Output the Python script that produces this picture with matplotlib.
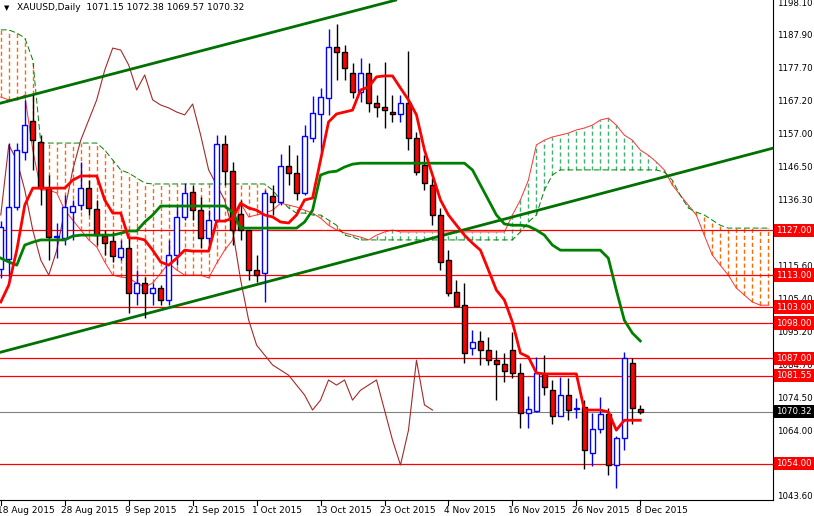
import matplotlib.pyplot as plt
import numpy as np

# daily OHLC, 18 Aug 2015 .. 8 Dec 2015
opens = [1115.0, 1118.0, 1134.3, 1151.5, 1161.2, 1154.6, 1140.2, 1124.9, 1124.6, 1132.7,
         1134.9, 1140.2, 1133.7, 1125.2, 1123.6, 1118.7, 1121.5, 1107.4, 1110.5, 1107.4,
         1109.0, 1105.2, 1119.3, 1131.2, 1139.0, 1133.4, 1124.6, 1130.2, 1154.0, 1145.6,
         1132.1, 1127.1, 1114.6, 1113.6, 1137.7, 1135.8, 1147.1, 1144.9, 1138.7, 1155.9,
         1163.4, 1168.4, 1184.3, 1182.8, 1176.2, 1170.3, 1176.2, 1166.8, 1165.6, 1164.0,
         1163.4, 1166.8, 1155.9, 1147.4, 1141.2, 1131.8, 1117.7, 1107.7, 1103.6, 1090.2,
         1092.4, 1089.6, 1086.4, 1085.2, 1089.6, 1082.4, 1069.8, 1070.5, 1082.1, 1077.0,
         1068.9, 1075.5, 1071.1, 1071.7, 1057.3, 1065.0, 1069.5, 1053.6, 1062.0, 1085.5,
         1071.15]
closes = [1128.0, 1134.3, 1152.1, 1159.9, 1155.2, 1140.2, 1124.9, 1124.9, 1134.3, 1134.6,
          1140.2, 1134.0, 1125.5, 1123.0, 1119.0, 1121.5, 1107.4, 1110.5, 1107.4, 1109.0,
          1105.2, 1119.3, 1131.2, 1138.7, 1133.4, 1124.6, 1130.2, 1154.0, 1145.6, 1127.1,
          1127.1, 1114.6, 1113.0, 1138.7, 1135.8, 1147.1, 1144.9, 1138.7, 1156.5, 1163.7,
          1168.7, 1184.3, 1182.8, 1177.8, 1170.3, 1176.2, 1166.8, 1165.6, 1164.6, 1163.4,
          1166.8, 1155.9, 1145.3, 1141.8, 1131.8, 1117.1, 1107.4, 1103.3, 1088.6, 1092.2,
          1089.6, 1086.4, 1085.2, 1083.0, 1082.4, 1069.8, 1071.0, 1082.4, 1078.0, 1068.9,
          1075.5, 1070.8, 1071.1, 1058.3, 1065.0, 1069.5, 1053.6, 1062.0, 1087.0, 1071.4,
          1070.32]
highs = [1130.0, 1154.3, 1154.3, 1167.8, 1169.3, 1156.8, 1144.4, 1129.3, 1138.0, 1136.5,
         1148.4, 1142.7, 1136.5, 1127.1, 1126.5, 1124.0, 1124.6, 1114.6, 1112.4, 1110.5,
         1109.9, 1124.0, 1134.9, 1141.8, 1141.2, 1137.4, 1133.3, 1156.8, 1156.8, 1148.4,
         1136.5, 1127.1, 1119.3, 1139.6, 1141.2, 1151.0, 1153.7, 1150.5, 1159.9, 1169.0,
         1171.5, 1190.0, 1191.5, 1184.9, 1179.3, 1180.9, 1179.3, 1169.3, 1179.6, 1169.3,
         1169.3, 1183.1, 1157.8, 1150.5, 1143.4, 1134.0, 1120.8, 1111.5, 1110.5, 1095.8,
         1095.5, 1093.6, 1089.6, 1088.6, 1095.2, 1085.5, 1075.2, 1087.4, 1088.0, 1080.2,
         1081.1, 1080.8, 1074.5, 1073.9, 1069.8, 1074.9, 1071.4, 1062.6, 1088.9, 1087.0,
         1072.38]
lows = [1112.0, 1111.5, 1133.3, 1149.0, 1145.9, 1134.9, 1117.7, 1118.3, 1122.4, 1123.9,
        1133.3, 1131.8, 1122.4, 1119.3, 1117.1, 1117.7, 1101.1, 1103.6, 1099.6, 1103.6,
        1103.6, 1103.6, 1116.1, 1130.2, 1130.2, 1121.5, 1122.4, 1129.6, 1141.2, 1122.4,
        1124.0, 1111.5, 1110.8, 1104.6, 1131.8, 1134.9, 1141.2, 1136.5, 1138.0, 1154.6,
        1151.5, 1163.1, 1174.0, 1174.0, 1168.4, 1167.1, 1164.0, 1162.4, 1159.0, 1160.9,
        1160.9, 1152.1, 1144.3, 1139.6, 1128.6, 1114.6, 1106.4, 1103.3, 1085.5, 1088.0,
        1084.9, 1084.9, 1073.9, 1079.6, 1080.8, 1065.2, 1065.2, 1070.2, 1075.5, 1066.4,
        1068.9, 1067.6, 1068.3, 1052.3, 1053.3, 1063.6, 1050.5, 1046.4, 1058.3, 1066.4,
        1069.57]

tenkan = [1104.6, 1109.9, 1120.8, 1134.9, 1140.2, 1140.2, 1140.2, 1140.2, 1140.2, 1142.7,
          1144.0, 1144.0, 1144.0, 1136.5, 1132.4, 1132.4, 1124.6, 1124.6, 1124.0, 1120.8,
          1117.1, 1116.1, 1118.3, 1120.8, 1120.5, 1120.5, 1120.5, 1129.9, 1129.9, 1130.8,
          1135.5, 1134.0, 1133.3, 1131.8, 1131.2, 1129.6, 1129.3, 1131.8, 1136.5, 1137.1,
          1149.0, 1160.9, 1163.4, 1164.0, 1164.6, 1170.9, 1171.8, 1175.0, 1175.3, 1175.3,
          1171.5, 1167.8, 1163.1, 1152.1, 1144.3, 1136.5, 1131.8, 1128.6, 1125.5, 1123.0,
          1120.8, 1114.6, 1108.3, 1105.2, 1098.3, 1088.6, 1087.4, 1082.4, 1082.1, 1082.1,
          1082.1, 1082.1, 1082.1, 1070.8, 1070.8, 1070.8, 1070.2, 1064.5, 1067.6, 1067.6,
          1067.6]
kijun = [1118.3, 1117.1, 1116.1, 1122.4, 1123.3, 1124.0, 1124.0, 1124.0, 1124.0, 1125.2,
         1125.5, 1125.5, 1125.5, 1125.5, 1125.5, 1126.1, 1126.8, 1126.8, 1129.6, 1131.8,
         1134.6, 1134.6, 1134.6, 1134.6, 1134.6, 1134.6, 1134.6, 1134.6, 1134.6, 1132.7,
         1127.7, 1127.7, 1127.7, 1127.7, 1127.7, 1127.7, 1127.7, 1127.7, 1129.6, 1133.3,
         1144.3, 1145.2, 1145.5, 1146.8, 1147.7, 1148.0, 1148.0, 1148.0, 1148.0, 1148.0,
         1148.0, 1148.0, 1148.0, 1148.0, 1148.0, 1148.0, 1148.0, 1148.0, 1148.0, 1145.9,
         1141.2, 1136.5, 1131.8, 1129.0, 1128.6, 1128.6, 1128.3, 1127.1, 1125.5, 1122.4,
         1120.8, 1120.8, 1120.8, 1120.8, 1120.8, 1120.8, 1118.3, 1108.3, 1098.9, 1094.9,
         1092.4]
chikou = [1131.8, 1153.7, 1149.0, 1139.6, 1127.1, 1117.7, 1113.0, 1120.8, 1133.3, 1145.9,
          1155.2, 1161.5, 1167.8, 1177.1, 1184.0, 1183.4, 1178.7, 1170.9, 1175.6, 1167.8,
          1166.2, 1165.3, 1164.0, 1163.1, 1166.5, 1156.8, 1145.9, 1141.2, 1136.5, 1127.1,
          1111.5, 1099.0, 1091.1, 1088.0, 1084.9, 1083.3, 1081.7, 1078.6, 1075.5, 1070.8,
          1073.9, 1080.2, 1078.6, 1080.2, 1073.9, 1077.0, 1078.6, 1080.2, 1070.8, 1061.4,
          1053.6, 1064.5, 1086.4, 1072.4, 1070.8]
span_a = [1168.7, 1167.8, 1167.8, 1169.3, 1152.1, 1139.6, 1139.6, 1138.7, 1133.3, 1130.2,
          1127.1, 1124.0, 1121.8, 1117.1, 1113.0, 1112.4, 1112.1, 1110.5, 1109.3, 1110.5,
          1113.6, 1116.7, 1114.6, 1113.0, 1113.0, 1113.0, 1112.1, 1116.7, 1120.8, 1124.0,
          1135.5, 1131.2, 1131.8, 1132.4, 1133.3, 1135.5, 1134.9, 1134.3, 1133.3, 1132.4,
          1130.8, 1128.6, 1127.1, 1126.2, 1125.5, 1124.9, 1124.0, 1125.5, 1126.5, 1127.1,
          1126.5, 1126.5, 1126.5, 1126.5, 1126.5, 1126.5, 1126.5, 1126.5, 1126.5, 1126.5,
          1126.5, 1126.5, 1126.5, 1126.5, 1131.8, 1136.5, 1142.7, 1153.7, 1155.2, 1156.2,
          1156.8, 1157.4, 1158.4, 1159.0, 1159.9, 1161.5, 1162.1, 1159.9, 1156.8, 1155.2,
          1152.1, 1150.5, 1148.4, 1145.9, 1141.2, 1138.0, 1134.9, 1131.8, 1125.5, 1119.3,
          1116.1, 1113.0, 1109.0, 1106.8, 1104.6, 1103.6, 1103.6]
span_b = [1189.7, 1189.7, 1188.7, 1187.2, 1180.3, 1154.3, 1154.3, 1154.3, 1154.3, 1154.3,
          1154.3, 1154.3, 1154.3, 1152.1, 1149.0, 1145.9, 1144.9, 1143.4, 1141.8, 1141.5,
          1141.5, 1141.5, 1141.5, 1141.5, 1141.5, 1141.5, 1141.5, 1141.5, 1141.5, 1141.5,
          1141.5, 1141.5, 1141.5, 1141.5, 1139.6, 1136.5, 1134.0, 1132.4, 1132.4, 1131.8,
          1131.8, 1130.2, 1128.6, 1125.5, 1124.9, 1124.0, 1124.0, 1124.0, 1124.0, 1124.0,
          1124.0, 1124.0, 1124.0, 1124.0, 1124.0, 1124.0, 1124.0, 1124.0, 1124.0, 1124.0,
          1124.0, 1124.0, 1124.0, 1124.0, 1124.0, 1126.5, 1129.6, 1131.8, 1139.6, 1144.3,
          1145.9, 1145.9, 1145.9, 1145.9, 1145.9, 1145.9, 1145.9, 1145.9, 1145.9, 1145.9,
          1145.9, 1145.9, 1145.9, 1145.2, 1142.7, 1138.0, 1134.0, 1132.7, 1131.8, 1130.2,
          1128.6, 1127.7, 1127.7, 1127.7, 1127.7, 1127.7, 1127.7]

levels = [1127.00, 1113.00, 1103.00, 1098.00, 1087.00, 1081.55, 1054.00]
last_price = 1070.32
price_ticks = [1198.10, 1187.90, 1177.70, 1167.20, 1157.00, 1146.50, 1136.30,
               1115.60, 1105.40, 1095.20, 1084.70, 1074.50, 1064.00, 1043.60]
date_labels = ["18 Aug 2015", "28 Aug 2015", "9 Sep 2015", "21 Sep 2015", "1 Oct 2015",
               "13 Oct 2015", "23 Oct 2015", "4 Nov 2015", "16 Nov 2015", "26 Nov 2015",
               "8 Dec 2015"]
# trend lines: (bar, price) endpoints
upper_trend = [(0, 1166.8), (49.4, 1199.0)]
lower_trend = [(0, 1088.9), (96.6, 1152.7)]

fig = plt.figure(figsize=(8.14, 5.16), dpi=100)
ax = fig.add_axes([0, 16 / 516, 773 / 814, 500 / 516])
ax.set_xlim(-0.1, 96.6)
ax.set_ylim(1042.66, 1199.04)

# cloud hatching
for i in range(len(span_a)):
    a, b = span_a[i], span_b[i]
    col = "#FF6A00" if a < b else "#3CB371"
    ax.vlines(i, min(a, b), max(a, b), colors=col, linestyles=(0, (3, 2)), linewidth=1, zorder=1)
xs = np.arange(len(span_a))
ax.plot(xs, span_a, color="#FF3030", linewidth=0.7, zorder=2)
ax.plot(xs, span_b, color="#008000", linewidth=0.7, linestyle=(0, (6, 3)), zorder=2)

for lv in levels:
    ax.axhline(lv, color="#FF0000", linewidth=0.9, zorder=2)
ax.axhline(last_price, color="#808080", linewidth=0.8, zorder=2)

ax.plot(np.arange(len(chikou)), chikou, color="#A52A2A", linewidth=0.8, zorder=3)

for (x0, y0), (x1, y1) in [upper_trend, lower_trend]:
    ax.plot([x0, x1], [y0, y1], color="#007000", linewidth=2, zorder=3)

# candles
for i in range(len(opens)):
    o, c, h, l = opens[i], closes[i], highs[i], lows[i]
    bull = c >= o
    wick = "#0000FF" if bull else "black"
    ax.vlines(i, l, h, colors=wick, linewidth=1, zorder=4)
    ax.bar(i, max(abs(c - o), 0.3), bottom=min(o, c), width=0.6,
           color="white" if bull else "#FF0000", edgecolor=wick, linewidth=1, zorder=5)

ax.plot(np.arange(len(kijun)), kijun, color="#008000", linewidth=2, zorder=6)
ax.plot(np.arange(len(tenkan)), tenkan, color="#FF0000", linewidth=2, zorder=6)

ax.set_xticks([])
ax.set_yticks([])
for s in ["top", "left"]:
    ax.spines[s].set_visible(False)
ax.spines["right"].set_color("black")
ax.spines["bottom"].set_color("black")

fs = 6.2
for p in price_ticks:
    ax.annotate(f"{p:.2f}", (1, p), xycoords=("axes fraction", "data"), xytext=(3, 0),
                textcoords="offset points", va="center", fontsize=fs)
for lv in levels:
    ax.annotate(f"{lv:.2f}", (1, lv), xycoords=("axes fraction", "data"), xytext=(2.5, 0),
                textcoords="offset points", va="center", fontsize=fs, color="white",
                bbox=dict(boxstyle="square,pad=0.25", fc="#FF0000", ec="none"), zorder=10)
ax.annotate(f"{last_price:.2f}", (1, last_price), xycoords=("axes fraction", "data"), xytext=(2.5, 0),
            textcoords="offset points", va="center", fontsize=fs, color="white",
            bbox=dict(boxstyle="square,pad=0.25", fc="black", ec="none"), zorder=10)

for k, lab in enumerate(date_labels):
    xb = k * 8
    ax.plot([xb, xb], [1042.66, 1041.2], color="black", linewidth=0.8, clip_on=False)
    ax.annotate(lab, (xb, 0), xycoords=("data", "axes fraction"), xytext=(-3, -4),
                textcoords="offset points", va="top", ha="left", fontsize=6.5)

ax.text(0.005, 0.99, "\u25BC", transform=ax.transAxes, fontsize=5, va="top")
ax.text(0.022, 0.993, "XAUUSD,Daily  1071.15 1072.38 1069.57 1070.32", transform=ax.transAxes,
        fontsize=6.5, va="top")

fig.savefig("out.png", dpi=100)
